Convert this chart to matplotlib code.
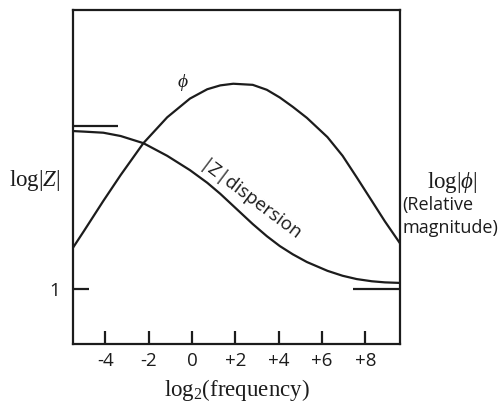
import matplotlib
matplotlib.use("Agg")
import matplotlib.pyplot as plt

plt.rcParams['font.family'] = ['Open Sans', 'DejaVu Sans']
plt.rcParams['mathtext.fontset'] = 'custom'
plt.rcParams['mathtext.rm'] = 'Liberation Serif'
plt.rcParams['mathtext.it'] = 'Liberation Serif:italic'

# log2(frequency) sample positions
log2_freq = [-5.5, -5.0, -4.1, -3.3, -2.25, -1.15, -0.1, 0.7, 1.3, 1.9, 2.8,
             3.45, 4.05, 4.65, 5.3, 6.25, 6.95, 7.6, 8.3, 8.9, 9.6]

# phase (relative magnitude) and |Z| dispersion, arbitrary log units
phi = [1.75, 2.05, 2.60, 3.07, 3.65, 4.12, 4.46, 4.63, 4.70, 4.73, 4.71,
       4.62, 4.48, 4.31, 4.11, 3.76, 3.42, 3.03, 2.60, 2.23, 1.83]
log_z = [3.87, 3.86, 3.84, 3.78, 3.65, 3.42, 3.16, 2.93, 2.73, 2.51, 2.18,
         1.96, 1.78, 1.63, 1.49, 1.33, 1.24, 1.18, 1.14, 1.12, 1.11]

# low/high frequency limits of log|Z|
z_low_freq_level = 3.96
z_high_freq_level = 1.0

xticks = [-4, -2, 0, 2, 4, 6, 8]
xtick_labels = ['-4', '-2', '0', '+2', '+4', '+6', '+8']

ink = '#1c1c1c'

fig = plt.figure(figsize=(5.02, 4.07), dpi=100)
ax = fig.add_axes([0.1454, 0.1548, 0.6514, 0.8206])

ax.plot(log2_freq, phi, color=ink, lw=1.6, solid_joinstyle='round')
ax.plot(log2_freq, log_z, color=ink, lw=1.6, solid_joinstyle='round')

ax.hlines(z_low_freq_level, -5.5, -3.42, color=ink, lw=1.6)
ax.hlines(z_high_freq_level, 7.44, 9.6, color=ink, lw=1.6)

ax.set_xlim(-5.5, 9.6)
ax.set_ylim(0, 6.07)

for s in ax.spines.values():
    s.set_linewidth(1.6)
    s.set_color(ink)

ax.set_xticks(xticks)
ax.set_xticklabels(xtick_labels)
ax.tick_params(axis='x', direction='in', length=9.5, width=1.6, pad=6,
               labelsize=13.5, colors=ink)
ax.set_yticks([1])
ax.set_yticklabels(['1'])
ax.tick_params(axis='y', direction='in', length=11.5, width=1.6, pad=9,
               labelsize=13.5, colors=ink)

ax.set_xlabel(r'$\mathrm{log}_2\mathrm{(frequency)}$', fontsize=16.5,
              labelpad=5, color=ink)

fig.text(0.070, 0.557, r'$\mathrm{log}|Z|$', fontsize=16.5, ha='center',
         va='center', color=ink)
fig.text(0.900, 0.551, r'$\mathrm{log}|\phi|$', fontsize=16.5, ha='center',
         va='center', color=ink)
fig.text(0.801, 0.497, '(Relative', fontsize=13, ha='left', va='center',
         color=ink)
fig.text(0.801, 0.440, 'magnitude)', fontsize=13, ha='left', va='center',
         color=ink)

ax.text(-0.42, 4.75, r'$\phi$', fontsize=14, ha='center', va='center',
        color=ink)
ax.text(2.68, 2.6, '|Z|dispersion', fontsize=13.5, ha='center',
        va='center', rotation=-37, rotation_mode='anchor', color=ink)

fig.savefig('out.png', dpi=100)
